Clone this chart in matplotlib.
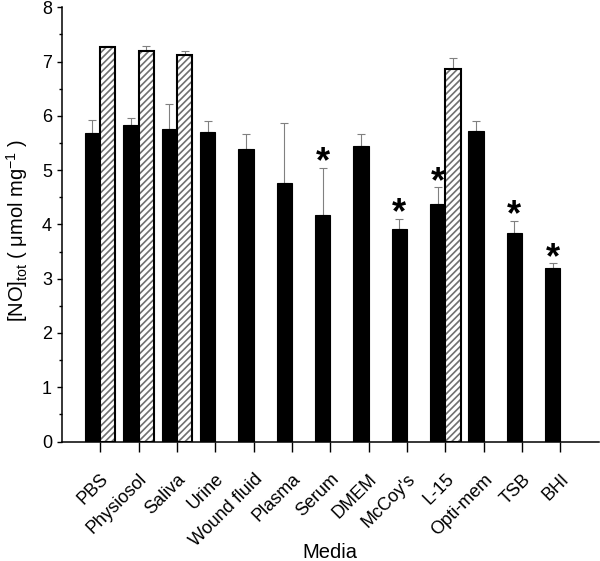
import numpy as np
import matplotlib
matplotlib.use('Agg')
import matplotlib.pyplot as plt
from matplotlib.ticker import MultipleLocator

plt.rcParams['font.family'] = ['Liberation Sans', 'DejaVu Sans']
plt.rcParams['mathtext.fontset'] = 'custom'
plt.rcParams['mathtext.rm'] = 'Liberation Sans'
plt.rcParams['mathtext.it'] = 'Liberation Sans:italic'
plt.rcParams['hatch.linewidth'] = 1.2

# data
media = ['PBS', 'Physiosol', 'Saliva', 'Urine', 'Wound fluid', 'Plasma', 'Serum',
         'DMEM', "McCoy's", 'L-15', 'Opti-mem', 'TSB', 'BHI']
black = [5.68, 5.84, 5.75, 5.71, 5.38, 4.77, 4.18, 5.45, 3.92, 4.37, 5.72, 3.85, 3.20]
black_err = [0.24, 0.12, 0.47, 0.19, 0.28, 1.09, 0.86, 0.22, 0.18, 0.31, 0.18, 0.22, 0.08]
hatched = [7.27, 7.19, 7.13, np.nan, np.nan, np.nan, np.nan, np.nan, np.nan, 6.87, np.nan, np.nan, np.nan]
hatched_err = [0.01, 0.10, 0.06, 0, 0, 0, 0, 0, 0, 0.19, 0, 0, 0]
starred = ['Serum', "McCoy's", 'L-15', 'TSB', 'BHI']

x = np.arange(1, len(media) + 1)
w = 0.4

fig = plt.figure(figsize=(6.0, 5.61), dpi=100)
ax = fig.add_axes([0.103, 0.213, 0.895, 0.774])

ax.bar(x - w / 2, black, w, color='black', edgecolor='black', linewidth=0.8, zorder=2)
ax.errorbar(x - w / 2, black, yerr=[np.zeros(len(x)), black_err], fmt='none',
            ecolor='#808080', elinewidth=0.8, capsize=3, capthick=0.8, zorder=1)

hx = np.array([xi + w / 2 for xi, h in zip(x, hatched) if not np.isnan(h)])
hv = np.array([h for h in hatched if not np.isnan(h)])
he = np.array([e for e, h in zip(hatched_err, hatched) if not np.isnan(h)])
ax.bar(hx, hv, w, color='white', edgecolor='#707070', hatch='/////', linewidth=0, zorder=2)
ax.bar(hx, hv, w, fill=False, edgecolor='black', linewidth=1.5, zorder=3)
ax.errorbar(hx, hv, yerr=[np.zeros(len(hx)), he], fmt='none',
            ecolor='#808080', elinewidth=0.8, capsize=3, capthick=0.8, zorder=1)

for i, m in enumerate(media):
    if m in starred:
        ax.annotate('*', (x[i] - w / 2, black[i] + black_err[i]), xytext=(0, -9),
                    textcoords='offset points', ha='center', va='bottom',
                    fontsize=26, fontweight='bold')

ax.set_xlim(0, 14)
ax.set_ylim(0, 8)
ax.set_xticks(x)
ax.set_xticklabels(media, rotation=45, ha='right', rotation_mode='anchor', fontsize=13)
ax.yaxis.set_major_locator(MultipleLocator(1))
ax.yaxis.set_minor_locator(MultipleLocator(0.5))
ax.tick_params(axis='y', which='major', length=3.5, width=1, labelsize=13)
ax.tick_params(axis='y', which='minor', length=2.2, width=1)
ax.tick_params(axis='x', which='major', length=7, width=1, pad=14)

for s in ['top', 'right']:
    ax.spines[s].set_visible(False)
for s in ['left', 'bottom']:
    ax.spines[s].set_linewidth(1.1)

ax.set_xlabel('Media', fontsize=14.5, va='center')
ax.xaxis.set_label_coords(0.5, -0.256)
ax.set_ylabel(r'[NO]$_{\mathrm{tot}}$ ( $\mathrm{\mu}$mol mg$^{-1}$ )', fontsize=14.5, va='center')
ax.yaxis.set_label_coords(-0.083, 0.487)

fig.savefig('out.png', dpi=100)
